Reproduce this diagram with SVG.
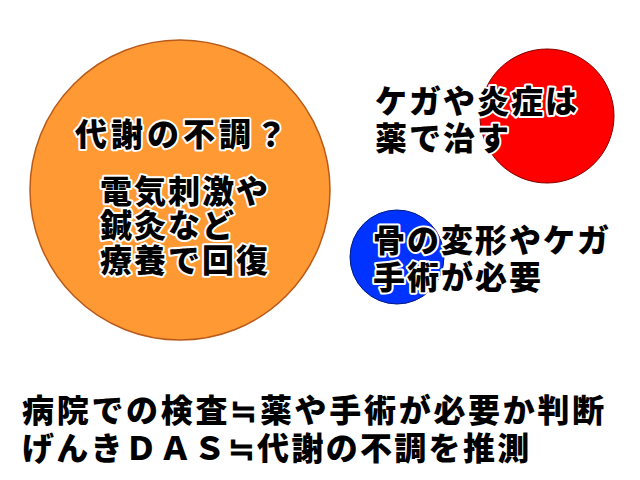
<svg xmlns="http://www.w3.org/2000/svg" width="640" height="480" viewBox="0 0 640 480">
<style>
.t{font-family:"Noto Sans CJK JP","Noto Sans CJK SC",sans-serif;font-weight:900;font-size:32px;letter-spacing:2px;fill:#000;stroke:#fff;stroke-width:4px;stroke-linejoin:round;paint-order:stroke}
</style>
<rect width="640" height="480" fill="#fff"/>
<g id="orange">
<circle cx="180" cy="190" r="150" fill="#FF9933" stroke="#B85A1A" stroke-width="1.5"/>
<text class="t" x="75" y="146" style="letter-spacing:4px">代謝の不調？</text>
<text class="t" x="100" y="203">電気刺激や</text>
<text class="t" x="100" y="237">鍼灸など</text>
<text class="t" x="100" y="272">療養で回復</text>
</g>
<g id="red">
<circle cx="547" cy="116" r="67" fill="#FF0000" stroke="#800000" stroke-width="1"/>
<text class="t" x="375" y="113">ケガや炎症は</text>
<text class="t" x="375" y="150">薬で治す</text>
</g>
<g id="blue">
<circle cx="397" cy="257" r="47" fill="#0033FF" stroke="#001a80" stroke-width="1"/>
<text class="t" x="373" y="252">骨の変形やケガ</text>
<text class="t" x="373" y="289">手術が必要</text>
</g>
<g id="bottom">
<text class="t" x="22" y="422" style="letter-spacing:2.7px">病院での検査≒薬や手術が必要か判断</text>
<text class="t" x="22" y="460" style="letter-spacing:2.3px">げんきＤＡＳ≒代謝の不調を推測</text>
</g>
<g id="connectors"/>
</svg>
